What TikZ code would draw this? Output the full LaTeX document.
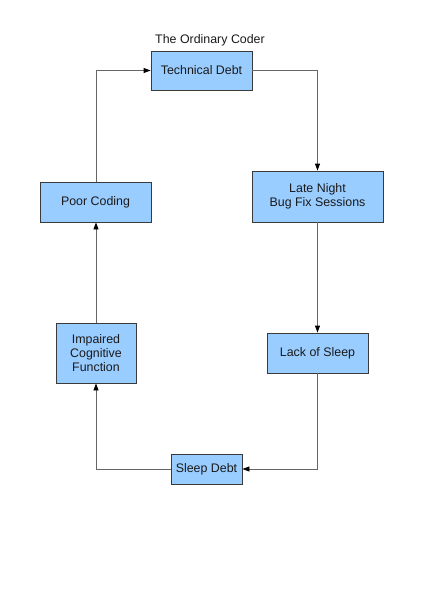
\documentclass[tikz,border=0pt]{standalone}
\usepackage{fontspec}
\setmainfont{Liberation Sans}
\usetikzlibrary{arrows.meta}
\definecolor{boxfill}{HTML}{99CCFF}
\definecolor{boxline}{HTML}{3A3A3A}
\definecolor{conn}{HTML}{666666}
\definecolor{txt}{HTML}{1A1A1A}
\begin{document}
\begin{tikzpicture}[x=1pt,y=-1pt,
  box/.style={draw=boxline,fill=boxfill,line width=0.8pt,inner sep=0pt,align=center,
    text=txt,font=\fontsize{12.4}{14}\selectfont},
  conn/.style={draw=conn,line width=0.8pt,-{Triangle[length=7pt,width=5pt,color=black]}}]
\useasboundingbox (0,0) rectangle (424,600);
\node[text=txt,font=\fontsize{12.4}{14}\selectfont] (title) at (210,40) {The Ordinary Coder};
\node[box,minimum width=101pt,minimum height=39pt] (td) at (201.5,70.5) {Technical Debt};
\node[box,minimum width=131pt,minimum height=51pt] (ln) at (317.5,196.5) {Late Night\\Bug Fix Sessions};
\node[box,minimum width=101pt,minimum height=40pt] (ls) at (317.5,353) {Lack of Sleep};
\node[box,minimum width=71pt,minimum height=30pt] (sd) at (206.5,469) {Sleep Debt};
\node[box,minimum width=80pt,minimum height=60pt] (ic) at (96,353) {Impaired\\Cognitive\\Function};
\node[box,minimum width=111pt,minimum height=40pt] (pc) at (95.5,202) {Poor Coding};
\draw[conn] (td.east) -| (ln.north);
\draw[conn] (ln.south) -- (ls.north);
\draw[conn] (ls.south) |- (sd.east);
\draw[conn] (sd.west) -| (ic.south);
\draw[conn] (ic.north) -- (pc.south -| ic.north);
\draw[conn] (pc.north -| ic.north) |- (td.west);
\end{tikzpicture}
\end{document}
